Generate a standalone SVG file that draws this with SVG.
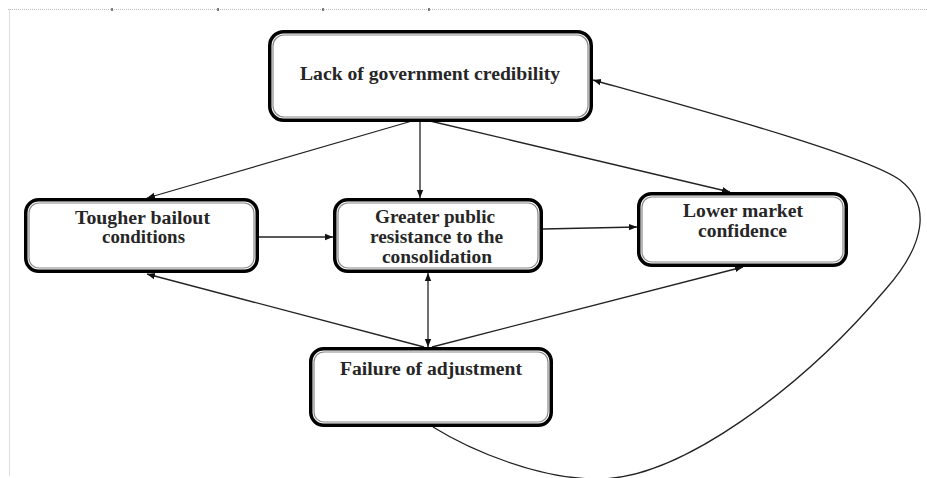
<svg xmlns="http://www.w3.org/2000/svg" width="927" height="478" viewBox="0 0 927 478">
<style>
.outer{fill:#fff;stroke:#000;stroke-width:3.5}
.inner{fill:none;stroke:#888;stroke-width:1.2}
.lbl{font-family:"Liberation Serif","Times New Roman",serif;font-weight:bold;font-size:18px;fill:#262626;text-anchor:middle}
.conn{fill:none;stroke:#222;stroke-width:1.3}
.frame{stroke:#bbb;stroke-width:1;stroke-dasharray:1 1;fill:none}
</style>
<defs>
<marker id="arr" markerUnits="userSpaceOnUse" markerWidth="10" markerHeight="8" refX="8" refY="4" orient="auto-start-reverse">
<path d="M0,0.8 L8,4 L0,7.2 Z" fill="#111"/>
</marker>
</defs>
<rect width="927" height="478" fill="#fff"/>
<g id="frame">
<path class="frame" d="M8,9.5 H927 M9.5,9.5 V476"/>
<path d="M112,8 v3 M218,8 v3 M323,8 v3 M429,8 v3" stroke="#333" stroke-width="1.2"/>
</g>
<g id="connectors">
<path class="conn" d="M412,121 L147,198" marker-end="url(#arr)"/>
<path class="conn" d="M420,121 L420,198" marker-end="url(#arr)"/>
<path class="conn" d="M430,121 L730,192" marker-end="url(#arr)"/>
<path class="conn" d="M259,237 L333,237" marker-end="url(#arr)"/>
<path class="conn" d="M543,229 L637,227" marker-end="url(#arr)"/>
<path class="conn" d="M428,347 L428,273" marker-start="url(#arr)" marker-end="url(#arr)"/>
<path class="conn" d="M424,347 L147,274" marker-end="url(#arr)"/>
<path class="conn" d="M432,347 L743,267" marker-end="url(#arr)"/>
<path class="conn" d="M433,427 C470,450 540,480 600,479 C680,478 800,390 885,290 C925,245 932,205 900,180 C865,155 700,110 593,80" marker-end="url(#arr)"/>
</g>
<g id="node-credibility">
<rect class="outer" x="269.75" y="31.75" width="321.5" height="88.5" rx="14"/>
<rect class="inner" x="273" y="35" width="315" height="82" rx="11"/>
<text class="lbl" x="430" y="80" textLength="260" lengthAdjust="spacingAndGlyphs">Lack of government credibility</text>
</g>
<g id="node-bailout">
<rect class="outer" x="25.75" y="199.75" width="231.5" height="71.5" rx="13"/>
<rect class="inner" x="29" y="203" width="225" height="65" rx="10"/>
<text class="lbl" x="142.5" y="224" textLength="135" lengthAdjust="spacingAndGlyphs">Tougher bailout</text>
<text class="lbl" x="143.5" y="243" textLength="83" lengthAdjust="spacingAndGlyphs">conditions</text>
</g>
<g id="node-resistance">
<rect class="outer" x="334.75" y="199.75" width="206.5" height="71.5" rx="13"/>
<rect class="inner" x="338" y="203" width="200" height="65" rx="10"/>
<text class="lbl" x="435" y="223" textLength="120" lengthAdjust="spacingAndGlyphs">Greater public</text>
<text class="lbl" x="436.5" y="243" textLength="133" lengthAdjust="spacingAndGlyphs">resistance to the</text>
<text class="lbl" x="437" y="263" textLength="110" lengthAdjust="spacingAndGlyphs">consolidation</text>
</g>
<g id="node-market">
<rect class="outer" x="638.75" y="193.75" width="207.5" height="71.5" rx="13"/>
<rect class="inner" x="642" y="197" width="201" height="65" rx="10"/>
<text class="lbl" x="743" y="217" textLength="120" lengthAdjust="spacingAndGlyphs">Lower market</text>
<text class="lbl" x="742.5" y="237" textLength="89" lengthAdjust="spacingAndGlyphs">confidence</text>
</g>
<g id="node-failure">
<rect class="outer" x="310.75" y="348.75" width="240.5" height="76.5" rx="13"/>
<rect class="inner" x="314" y="352" width="234" height="70" rx="10"/>
<text class="lbl" x="431" y="375" textLength="182" lengthAdjust="spacingAndGlyphs">Failure of adjustment</text>
</g>
</svg>
